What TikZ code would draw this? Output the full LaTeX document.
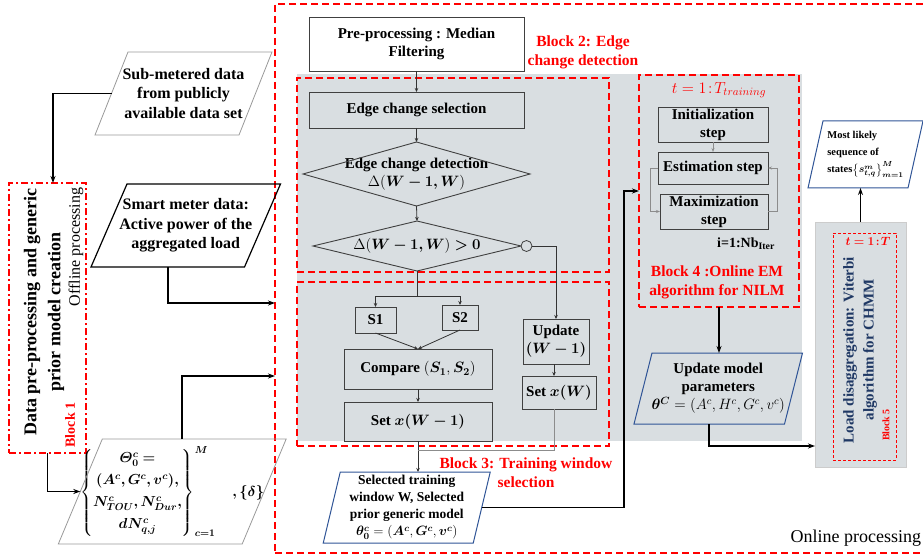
\RequirePackage{fix-cm}
\documentclass[tikz,border=0pt]{standalone}
\usepackage{amsmath,bm}
\usepackage{fontspec}
\setmainfont{Liberation Serif}
\usetikzlibrary{arrows.meta,calc}
\definecolor{bggray}{RGB}{217,222,225}
\definecolor{redc}{RGB}{255,0,0}
\definecolor{navy}{RGB}{31,56,100}
\definecolor{pblue}{RGB}{47,84,150}
\newcommand{\paraline}[3]{\draw[#3] ([xshift=#2]#1.north west) -- ([xshift=#2]#1.north east) -- ([xshift=-#2]#1.south east) -- ([xshift=-#2]#1.south west) -- cycle;}
\begin{document}
\begin{tikzpicture}[x=1pt,y=-1pt,
 every node/.style={inner sep=0pt, outer sep=0pt},
 bft/.style={font=\fontsize{15}{18}\selectfont\bfseries},
 fbox/.style={draw=black!75, line width=0.9pt, fill=bggray, align=center, bft},
 txt/.style={align=center, bft},
 redblk/.style={draw=redc, line width=1.8pt, dash pattern=on 7pt off 4pt},
 redlab/.style={text=redc, align=center, font=\fontsize{15.5}{19}\selectfont\bfseries},
 conn/.style={line width=1.6pt, -{Stealth[length=7pt,width=5pt]}},
 tconn/.style={line width=0.8pt, draw=black!80, -{Stealth[length=4pt,width=3.5pt]}},
 gconn/.style={line width=0.7pt, draw=black!45, -{Stealth[length=4pt,width=3pt]}},
 diam/.style={draw=black!75, line width=0.9pt},
]
\useasboundingbox (0,0) rectangle (923,556);
% backgrounds and block frames
\fill[bggray] (297,74) rectangle (802,441);
\node[redblk, minimum width=660pt, minimum height=549pt] (onl) at (605,278.5) {};
\node[redblk, minimum width=312pt, minimum height=194pt] (b2) at (453,175) {};
\node[redblk, minimum width=312pt, minimum height=164pt] (b3) at (453,364) {};
\node[redblk, minimum width=160pt, minimum height=232pt] (b4) at (719,191) {};
\node[draw=redc, line width=1.8pt, dash pattern=on 7pt off 3pt on 2pt off 3pt, minimum width=77pt, minimum height=270pt] (b1) at (47.5,318) {};
\node[draw=black!20, fill=bggray, line width=0.8pt, minimum width=91pt, minimum height=245pt] (b5g) at (860.5,344.5) {};
\node[draw=redc, line width=0.9pt, dash pattern=on 3pt off 2pt, minimum width=63pt, minimum height=227pt] (b5) at (864.5,346.5) {};

% labels
\node[redlab] (lb2) at (583,52) {Block 2: Edge\\change detection};
\node[redlab] (lb3) at (526,473) {Block 3: Training window\\selection};
\node[redlab] (lb4) at (717,282) {Block 4 :Online EM\\algorithm for NILM};
\node[text=redc, font=\fontsize{16}{19}\selectfont] (t4) at (719,90) {$t = 1\!:\!T_{training}$};
\node[text=redc, font=\fontsize{14}{17}\selectfont\bfseries, rotate=90] (lb1) at (70,425) {Block 1};
\node[font=\fontsize{16}{19}\selectfont, rotate=90] (off) at (76,247) {Offline processing};
\node[font=\fontsize{18}{21}\selectfont, anchor=east] (onlab) at (921,538) {Online processing};
\node[font=\fontsize{18}{24}\selectfont\bfseries, rotate=90, align=center] (b1t) at (44,312) {Data pre-processing and generic\\prior model creation};
\node[text=navy, font=\fontsize{15}{20}\selectfont\bfseries, rotate=90, align=center] (b5t) at (860,350) {Load disaggregation: Viterbi\\algorithm for CHMM};
\node[text=redc, font=\fontsize{10}{12}\selectfont\bfseries, rotate=90] (lb5) at (886,425) {Block 5};
\node[text=redc, font=\fontsize{12}{14}\selectfont] (t5) at (868,241) {$\bm{t=1\!:\!T}$};

% left side
\node[txt, font=\fontsize{16}{19.5}\selectfont\bfseries, minimum width=144pt, minimum height=83pt] (sub) at (183.5,93.5) {Sub-metered data\\from publicly\\available data set};
\paraline{sub}{16.5pt}{draw=black!40, line width=0.8pt}
\node[txt, font=\fontsize{16}{19.5}\selectfont\bfseries, minimum width=153.5pt, minimum height=83pt] (sm) at (185.75,225.5) {Smart meter data:\\Active power of the\\aggregated load};
\paraline{sm}{18pt}{draw=black, line width=1.2pt}
\node[txt, font=\fontsize{14.5}{17}\selectfont\bfseries, minimum width=178.5pt, minimum height=105pt] (param) at (172.25,491.5) {$\left\{\begin{matrix}\bm{\varTheta_0^c=}\\[5pt] \bm{(A^c,G^c,v^c),}\\[5pt] \bm{N^c_{TOU},N^c_{Dur},}\\[5pt] \bm{dN^c_{q,j}}\end{matrix}\right\}_{\bm{c=1}}^{\bm{M}}\quad\bm{,\{\delta\}}$};
\paraline{param}{22pt}{draw=black!40, line width=0.8pt}

% block 2 / 3 flow
\node[fbox, fill=white, minimum width=215pt, minimum height=54pt] (pre) at (416.5,44) {Pre-processing : Median\\Filtering};
\node[fbox, minimum width=215pt, minimum height=36pt] (ecs) at (416.5,110) {Edge change selection};
\node[txt, minimum width=227pt, minimum height=64pt] (d1) at (416.5,174) {Edge change detection\\$\Delta(\bm{W-1,W})$};
\draw[diam] (d1.west) -- (d1.north) -- (d1.east) -- (d1.south) -- cycle;
\node[txt, minimum width=208pt, minimum height=50pt] (d2) at (417,246) {$\Delta(\bm{W-1,W})\bm{>0}$};
\draw[diam] (d2.west) -- (d2.north) -- (d2.east) -- (d2.south) -- cycle;
\node[circle, draw=black!75, fill=bggray, line width=0.8pt, minimum size=11pt] (c0) at (526.5,246) {};
\node[fbox, minimum width=41pt, minimum height=26pt] (s1) at (375.5,320) {S1};
\node[fbox, minimum width=36pt, minimum height=25pt] (s2) at (460,317.5) {S2};
\node[fbox, minimum width=148pt, minimum height=40pt] (cmp) at (418,369) {Compare $(\bm{S_1},\bm{S_2})$};
\node[fbox, minimum width=148pt, minimum height=39pt] (setw1) at (418,421.5) {Set $\bm{x(W-1)}$};
\node[fbox, minimum width=66pt, minimum height=45pt] (updw) at (556,341.5) {Update\\$\bm{(W-1)}$};
\node[fbox, minimum width=74pt, minimum height=33pt] (setx) at (559,392.5) {Set $\bm{x(W)}$};
\node[txt, font=\fontsize{13.5}{17}\selectfont\bfseries, minimum width=150pt, minimum height=71pt] (sel) at (406.75,507.5) {Selected training\\window W, Selected\\prior generic model\\$\bm{\theta_0^c} = (\bm{A^c},\bm{G^c},\bm{v^c})$};
\paraline{sel}{8.5pt}{draw=pblue, line width=1pt}

% block 4
\node[fbox, minimum width=110pt, minimum height=35pt] (init) at (713,124.5) {Initialization\\step};
\node[fbox, minimum width=110pt, minimum height=32pt] (est) at (713,168) {Estimation step};
\node[fbox, minimum width=108pt, minimum height=35pt] (maxs) at (714,211.5) {Maximization\\step};
\node[font=\fontsize{14}{17}\selectfont\bfseries] (iter) at (746,244) {i=1:Nb\textsubscript{Iter}};
\node[txt, minimum width=150.5pt, minimum height=71pt] (upm) at (718.25,388.5) {Update model\\parameters\\$\bm{\theta^C} = (A^c,H^c,G^c,v^c)$};
\paraline{upm}{9pt}{draw=pblue, line width=1pt}
\node[align=left, font=\fontsize{10.5}{17}\selectfont\bfseries, minimum width=100pt, minimum height=67pt] (ml) at (865.5,154.5) {Most likely\\sequence of\\states$\left\{\bm{s^m_{t,q}}\right\}^{\bm{M}}_{\bm{m=1}}$};
\paraline{ml}{7.5pt}{draw=pblue, line width=1pt}

% coordinates
\coordinate (br) at (417,296);
\coordinate (j1) at (624,507.5);
\coordinate (j2) at (709,446);
\coordinate (j3) at (167.75,303);
\coordinate (j4) at (418,450);
\coordinate (j5) at (182.25,376);

% connectors
\draw[conn] (sub.west) -| ([xshift=5.5pt]b1.north);
\draw[conn] ([xshift=-18pt]sm.south) |- (j3 -| onl.west);
\draw[conn] (b1.south) |- (param.west);
\draw[conn] ([xshift=10pt]param.north) |- (j5 -| onl.west);
\draw[tconn] (pre.south) -- (ecs.north);
\draw[tconn] (ecs.south) -- (d1.north);
\draw[tconn] (d1.south) -- (d2.north);
\draw[line width=0.8pt, draw=black!80] (d2.south) -- (br);
\draw[tconn] (br) -| (s1.north);
\draw[tconn] (br) -| (s2.north);
\draw[tconn] (s1.south) -- (cmp.north);
\draw[tconn] (s2.south) -- (cmp.north);
\draw[tconn] (cmp.south) -- (setw1.north);
\draw[tconn] (setw1.south) -- (setw1.south |- sel.north);
\draw[tconn] (c0.east) -| (updw.north);
\draw[tconn] ([xshift=-2pt]updw.south) -- ([xshift=-2pt]updw.south |- setx.north);
\draw[line width=0.8pt, draw=black!45] ([xshift=-5pt]setx.south) |- (j4);
\draw[conn] (sel.east) -- (j1) |- (b4.west);
\draw[gconn] (init.south) -- (est.north);
\draw[gconn] (est.west) -- ++(-8,0) |- (maxs.west);
\draw[gconn] (maxs.east) -- ++(9,0) |- (est.east);
\draw[conn] (b4.south) -- (b4.south |- upm.north);
\draw[conn] (upm.south -| j2) -- (j2) -- (j2 -| b5g.west);
\draw[conn] (b5g.north) -- (b5g.north |- ml.south);
\end{tikzpicture}
\end{document}
